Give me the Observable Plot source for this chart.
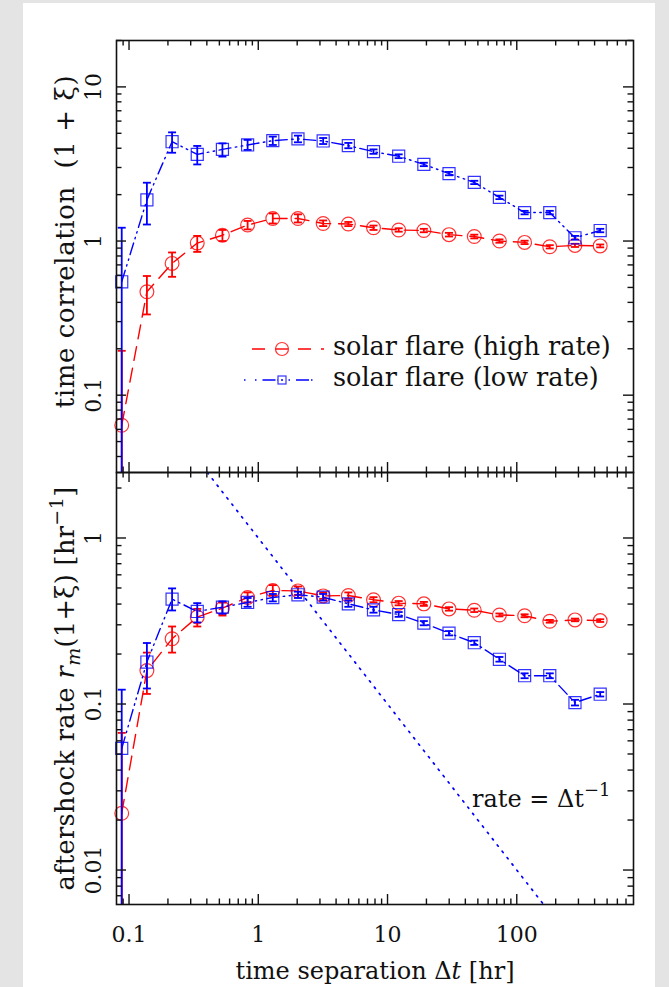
<!DOCTYPE html>
<html><head><meta charset="utf-8">
<script src="https://cdn.jsdelivr.net/npm/d3@7"></script>
<script src="https://cdn.jsdelivr.net/npm/@observablehq/plot@0.6"></script>
<style>
html,body{margin:0;padding:0;}
body{width:669px;height:987px;background:#e4e4e4;overflow:hidden;position:relative;}
#page{position:absolute;left:23px;top:3px;width:632px;height:990px;background:#fff;}
#topPanel,#bottomPanel,#legend{position:absolute;left:0;}
#topPanel{top:0}
#bottomPanel{top:472px}
#legend{left:230px;top:330px;}
svg text{white-space:pre;}
</style></head><body>
<div id="page"></div>
<div id="topPanel"></div><div id="bottomPanel"></div><div id="legend"></div>
<script>
// ---- data ----
const dt = [0.0878, 0.1375, 0.2153, 0.3372, 0.528, 0.827, 1.295, 2.028, 3.177, 4.975, 7.79, 12.2, 19.1, 29.9, 46.9, 73.4, 115, 180, 282, 442];

const corrHigh   = [0.0638, 0.469, 0.716, 0.97, 1.09, 1.27, 1.40, 1.40, 1.30, 1.29, 1.22, 1.18, 1.17, 1.10, 1.07, 1.00, 0.98, 0.918, 0.937, 0.93];
const corrHighLo = [null, 0.334, 0.586, 0.85, 1.0, 1.19, 1.30, 1.32, 1.25, 1.25, 1.18, 1.15, 1.14, 1.07, 1.04, 0.975, 0.955, 0.895, 0.915, 0.91];
const corrHighHi = [0.194, 0.593, 0.843, 1.08, 1.18, 1.35, 1.51, 1.49, 1.36, 1.33, 1.26, 1.21, 1.20, 1.13, 1.10, 1.025, 1.005, 0.94, 0.96, 0.95];

const corrLow   = [0.544, 1.85, 4.41, 3.65, 3.93, 4.2, 4.48, 4.6, 4.46, 4.16, 3.8, 3.55, 3.14, 2.74, 2.40, 1.92, 1.53, 1.53, 1.05, 1.17];
const corrLowLo = [null, 1.28, 3.74, 3.14, 3.53, 3.9, 4.2, 4.37, 4.26, 4.0, 3.68, 3.45, 3.06, 2.67, 2.34, 1.87, 1.49, 1.49, 1.02, 1.14];
const corrLowHi = [1.22, 2.39, 5.07, 4.14, 4.3, 4.53, 4.76, 4.83, 4.66, 4.33, 3.93, 3.65, 3.22, 2.81, 2.46, 1.97, 1.57, 1.57, 1.08, 1.20];

const rateHigh   = [0.022, 0.159, 0.247, 0.334, 0.378, 0.438, 0.483, 0.48, 0.448, 0.45, 0.425, 0.405, 0.401, 0.374, 0.367, 0.344, 0.340, 0.315, 0.321, 0.318];
const rateHighLo = [null, 0.115, 0.204, 0.293, 0.341, 0.41, 0.45, 0.455, 0.43, 0.43, 0.41, 0.393, 0.39, 0.365, 0.358, 0.337, 0.333, 0.309, 0.315, 0.312];
const rateHighHi = [0.067, 0.204, 0.293, 0.374, 0.408, 0.47, 0.52, 0.51, 0.47, 0.47, 0.44, 0.417, 0.412, 0.383, 0.376, 0.351, 0.347, 0.321, 0.327, 0.324];

const rateLow   = [0.054, 0.179, 0.428, 0.361, 0.383, 0.409, 0.438, 0.455, 0.44, 0.401, 0.369, 0.346, 0.307, 0.267, 0.234, 0.186, 0.148, 0.148, 0.102, 0.1145];
const rateLowLo = [null, 0.124, 0.366, 0.31, 0.35, 0.385, 0.415, 0.435, 0.42, 0.385, 0.355, 0.335, 0.298, 0.259, 0.227, 0.18, 0.143, 0.143, 0.098, 0.111];
const rateLowHi = [0.122, 0.233, 0.497, 0.405, 0.415, 0.435, 0.46, 0.475, 0.46, 0.42, 0.385, 0.358, 0.316, 0.275, 0.241, 0.192, 0.153, 0.153, 0.106, 0.118];

const seriesNames = ["solar flare (high rate)", "solar flare (low rate)"];

const xDomain = [0.08, 800];
const yTopDomain = [0.0315, 20];
const yBotDomain = [0.0062, 2.48];

const xMajor = [0.1, 1, 10, 100];
const xMajorLabels = ["0.1", "1", "10", "100"];
const xMinor = [0.09, 0.2, 0.3, 0.4, 0.5, 0.6, 0.7, 0.8, 0.9, 2, 3, 4, 5, 6, 7, 8, 9, 20, 30, 40, 50, 60, 70, 80, 90, 200, 300, 400, 500, 600, 700];
const yTopMajor = [0.1, 1, 10];
const yTopLabels = ["0.1", "1", "10"];
const yTopMinor = [0.04, 0.05, 0.06, 0.07, 0.08, 0.09, 0.2, 0.3, 0.4, 0.5, 0.6, 0.7, 0.8, 0.9, 2, 3, 4, 5, 6, 7, 8, 9, 20];
const yBotMajor = [0.01, 0.1, 1];
const yBotLabels = ["0.01", "0.1", "1"];
const yBotMinor = [0.007, 0.008, 0.009, 0.02, 0.03, 0.04, 0.05, 0.06, 0.07, 0.08, 0.09, 0.2, 0.3, 0.4, 0.5, 0.6, 0.7, 0.8, 0.9, 2];

const rateAnnotation = [{x: 45, y: 0.024, label: "rate = Δt"}];

// ---- helpers ----
const RED = "#ff0000", BLUE = "#0000ff";
const FONT = "DejaVu Serif";
const W = 669, ML = 116, MR = 36, FW = W - ML - MR, FH = 432;

const rows = (y, lo, hi) => dt.map((x, i) => ({x, y: y[i], lo: lo[i], hi: hi[i]}));
const capSymbol = {draw(ctx, size) { const w = Math.sqrt(size / Math.PI); ctx.moveTo(-w, 0); ctx.lineTo(w, 0); }};

function seriesMarks(data, color, dash, symbol, yDom) {
  return [
    Plot.line(data, {x: "x", y: "y", stroke: color, strokeWidth: 1.4, strokeDasharray: dash}),
    Plot.ruleX(data, {x: "x", y1: d => d.lo ?? yDom[0], y2: "hi", stroke: color, strokeWidth: 1.8}),
    Plot.dot(data, {x: "x", y: "hi", symbol: capSymbol, r: 4, stroke: color, strokeWidth: 1.8}),
    Plot.dot(data.filter(d => d.lo != null), {x: "x", y: "lo", symbol: capSymbol, r: 4, stroke: color, strokeWidth: 1.8}),
    Plot.dot(data, {x: "x", y: "y", symbol, r: symbol === "square" ? 6.8 : 6.9, stroke: color, strokeWidth: 1.2, strokeOpacity: 0.8, fill: "none"})
  ];
}

function edgeTicks(yMaj, yMin) {
  const L = 10, l = 5.5, s = {stroke: "#111", strokeWidth: 1.4};
  return [
    Plot.tickX(xMajor, {x: d => d, insetTop: FH - L, ...s}),
    Plot.tickX(xMajor, {x: d => d, insetBottom: FH - L, ...s}),
    Plot.tickX(xMinor, {x: d => d, insetTop: FH - l, ...s}),
    Plot.tickX(xMinor, {x: d => d, insetBottom: FH - l, ...s}),
    Plot.tickY(yMaj, {y: d => d, insetRight: FW - L, ...s}),
    Plot.tickY(yMaj, {y: d => d, insetLeft: FW - L, ...s}),
    Plot.tickY(yMin, {y: d => d, insetRight: FW - l, ...s}),
    Plot.tickY(yMin, {y: d => d, insetLeft: FW - l, ...s})
  ];
}

function yTickLabels(vals, labels) {
  return Plot.text(vals, {y: d => d, text: (d, i) => labels[i], frameAnchor: "left", dx: -16, rotate: -90,
    textAnchor: "middle", lineAnchor: "bottom", fontSize: 22, fill: "#111"});
}

function rich(svg, match, parts) {
  d3.select(svg).selectAll("text").each(function () {
    if (this.textContent !== match) return;
    const t = d3.select(this);
    t.text(null);
    for (const p of parts) {
      const s = t.append("tspan").text(p.t);
      if (p.italic) s.attr("font-style", "italic");
      if (p.dy) s.attr("dy", p.dy);
      if (p.size) s.attr("font-size", p.size);
    }
  });
}

function spacing(svg, match, ls) {
  d3.select(svg).selectAll("text").filter(function () { return this.textContent === match; })
    .attr("letter-spacing", ls);
}

// ---- top panel ----
const topTitle = "time correlation\u00a0\u00a0(1 + ξ)";
const topPlot = Plot.plot({
  width: W, height: 40 + FH, marginTop: 40, marginBottom: 0, marginLeft: ML, marginRight: MR,
  x: {type: "log", domain: xDomain, axis: null},
  y: {type: "log", domain: yTopDomain, axis: null},
  style: {background: "transparent", fontFamily: FONT, overflow: "visible", color: "#111"},
  marks: [
    ...seriesMarks(rows(corrHigh, corrHighLo, corrHighHi), RED, "14,8", "circle", yTopDomain),
    ...seriesMarks(rows(corrLow, corrLowLo, corrLowHi), BLUE, "12,4.5,1.5,4.5,1.5,4.5", "square", yTopDomain),
    ...edgeTicks(yTopMajor, yTopMinor),
    Plot.frame({stroke: "#111", strokeWidth: 1.6}),
    yTickLabels(yTopMajor, yTopLabels),
    Plot.text([topTitle], {text: d => d, frameAnchor: "left", dx: -43, dy: -15, rotate: -90,
      textAnchor: "middle", lineAnchor: "bottom", fontSize: 26, fill: "#111"})
  ]
});
document.getElementById("topPanel").appendChild(topPlot);
spacing(topPlot, topTitle, 0.6);

// ---- bottom panel ----
const rateLine = [1 / yBotDomain[1], 1 / yBotDomain[0]].map(x => ({x, y: 1 / x}));
const bottomPlot = Plot.plot({
  width: W, height: FH + 83, marginTop: 0, marginBottom: 83, marginLeft: ML, marginRight: MR,
  x: {type: "log", domain: xDomain, axis: null},
  y: {type: "log", domain: yBotDomain, axis: null},
  style: {background: "transparent", fontFamily: FONT, overflow: "visible", color: "#111"},
  marks: [
    Plot.line(rateLine, {x: "x", y: "y", stroke: BLUE, strokeWidth: 1.7, strokeDasharray: "1.6,6.4"}),
    ...seriesMarks(rows(rateHigh, rateHighLo, rateHighHi), RED, "14,8", "circle", yBotDomain),
    ...seriesMarks(rows(rateLow, rateLowLo, rateLowHi), BLUE, "12,4.5,1.5,4.5,1.5,4.5", "square", yBotDomain),
    ...edgeTicks(yBotMajor, yBotMinor),
    Plot.frame({stroke: "#111", strokeWidth: 1.6}),
    yTickLabels(yBotMajor, yBotLabels),
    Plot.text(xMajor, {x: d => d, text: (d, i) => xMajorLabels[i], frameAnchor: "bottom", dy: 37, lineAnchor: "bottom", fontSize: 22, fill: "#111"}),
    Plot.text(["time separation Δt [hr]"], {text: d => d, frameAnchor: "bottom", dy: 74, lineAnchor: "bottom", fontSize: 24, fill: "#111"}),
    Plot.text(["aftershock rate r(1+ξ) [hr]"], {text: d => d, frameAnchor: "left", dx: -43, rotate: -90,
      textAnchor: "middle", lineAnchor: "bottom", fontSize: 25.5, fill: "#111"}),
    Plot.text(rateAnnotation, {x: "x", y: "y", text: "label", textAnchor: "start", lineAnchor: "bottom", fontSize: 24, fill: "#111"})
  ]
});
document.getElementById("bottomPanel").appendChild(bottomPlot);

spacing(bottomPlot, "aftershock rate r(1+ξ) [hr]", 0.4);
rich(bottomPlot, "time separation Δt [hr]", [{t: "time separation Δ"}, {t: "t", italic: true}, {t: " [hr]"}]);
rich(bottomPlot, "aftershock rate r(1+ξ) [hr]", [
  {t: "aftershock rate "}, {t: "r", italic: true}, {t: "m", italic: true, dy: 6, size: 19},
  {t: "(1+ξ) [hr", dy: -6}, {t: "−1", dy: -11, size: 19}, {t: "]", dy: 11}
]);
rich(bottomPlot, "rate = Δt", [{t: "rate = Δt"}, {t: "−1", dy: -11, size: 18}]);

// ---- legend ----
const legendItems = [
  {label: seriesNames[0], color: RED, dash: "13,10", symbol: "circle", x1: 22, x2: 94},
  {label: seriesNames[1], color: BLUE, dash: "1.5,9.5,1.5,6,13,2", symbol: "square", x1: 14, x2: 92}
];
const lg = d3.select("#legend").append("svg").attr("width", 420).attr("height", 70)
  .style("font-family", FONT).style("overflow", "visible");
legendItems.forEach((it, i) => {
  const cy = 19 + 31 * i;
  lg.append("line").attr("x1", it.x1).attr("x2", it.x2).attr("y1", cy).attr("y2", cy)
    .attr("stroke", it.color).attr("stroke-width", 1.4).attr("stroke-dasharray", it.dash);
  if (it.symbol === "circle") {
    lg.append("circle").attr("cx", 52).attr("cy", cy).attr("r", 6.5).attr("fill", "#fff").attr("stroke", it.color).attr("stroke-opacity", 0.8).attr("stroke-width", 1.2);
    lg.append("line").attr("x1", 46).attr("x2", 58).attr("y1", cy).attr("y2", cy).attr("stroke", it.color).attr("stroke-width", 1.4);
  } else {
    lg.append("rect").attr("x", 48).attr("y", cy - 4).attr("width", 8).attr("height", 8).attr("fill", "#fff").attr("stroke", it.color).attr("stroke-opacity", 0.8).attr("stroke-width", 1.2);
    lg.append("circle").attr("cx", 52).attr("cy", cy).attr("r", 1).attr("fill", it.color);
  }
  lg.append("text").attr("x", 103).attr("y", cy + 6).attr("font-size", 25.5).attr("fill", "#111").text(it.label);
});
</script>
</body></html>
